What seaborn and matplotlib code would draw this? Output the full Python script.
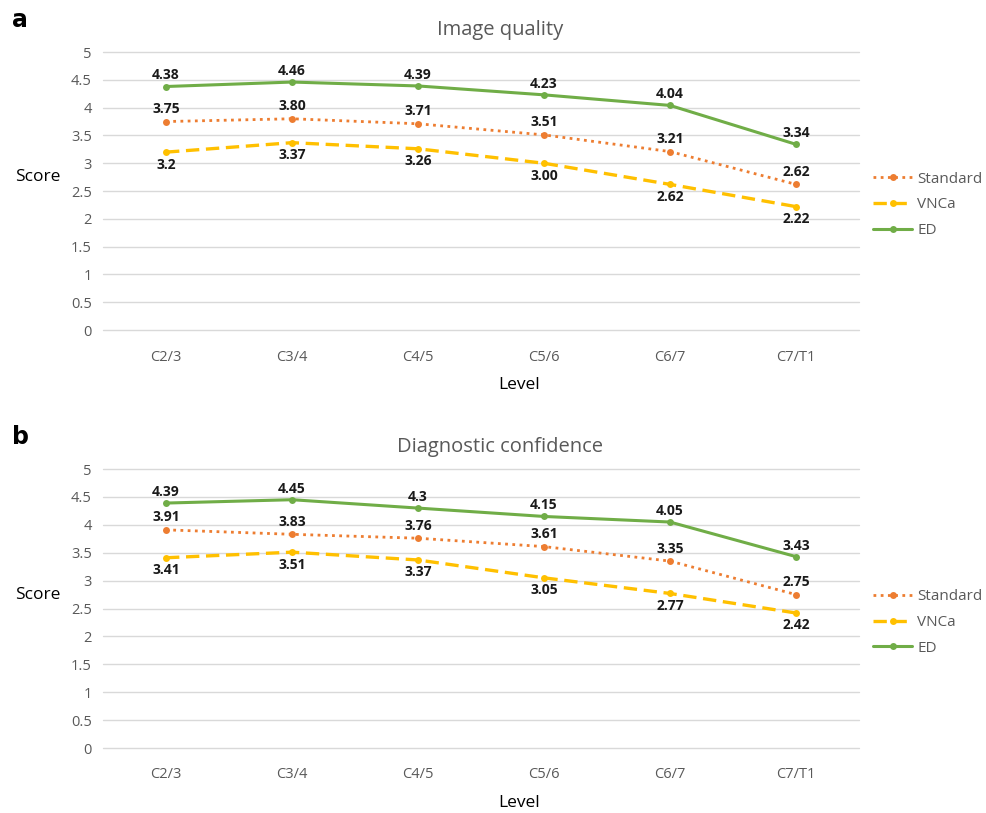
import pandas as pd
import matplotlib.pyplot as plt
import seaborn as sns

levels = ['C2/3', 'C3/4', 'C4/5', 'C5/6', 'C6/7', 'C7/T1']
series = ['Standard', 'VNCa', 'ED']

iq_standard = [3.75, 3.80, 3.71, 3.51, 3.21, 2.62]
iq_vnca = [3.20, 3.37, 3.26, 3.00, 2.62, 2.22]
iq_ed = [4.38, 4.46, 4.39, 4.23, 4.04, 3.34]
iq_labels = {
    'Standard': ['3.75', '3.80', '3.71', '3.51', '3.21', '2.62'],
    'VNCa': ['3.2', '3.37', '3.26', '3.00', '2.62', '2.22'],
    'ED': ['4.38', '4.46', '4.39', '4.23', '4.04', '3.34'],
}

dc_standard = [3.91, 3.83, 3.76, 3.61, 3.35, 2.75]
dc_vnca = [3.41, 3.51, 3.37, 3.05, 2.77, 2.42]
dc_ed = [4.39, 4.45, 4.30, 4.15, 4.05, 3.43]
dc_labels = {
    'Standard': ['3.91', '3.83', '3.76', '3.61', '3.35', '2.75'],
    'VNCa': ['3.41', '3.51', '3.37', '3.05', '2.77', '2.42'],
    'ED': ['4.39', '4.45', '4.3', '4.15', '4.05', '3.43'],
}

COLORS = {'Standard': '#ED7D31', 'VNCa': '#FFC000', 'ED': '#70AD47'}
STYLES = {'Standard': (0, (1, 1.6)), 'VNCa': (0, (4, 2)), 'ED': '-'}
WIDTHS = {'Standard': 2.0, 'VNCa': 2.4, 'ED': 2.2}
OFFSETS = {'Standard': 9, 'VNCa': -9, 'ED': 8}
GRAY = '#595959'

sns.set_style('white')
plt.rcParams['font.family'] = ['Open Sans', 'DejaVu Sans']


def make_df(std, vnc, ed):
    rows = []
    for name, vals in zip(series, [std, vnc, ed]):
        for lev, v in zip(levels, vals):
            rows.append({'Level': lev, 'Score': v, 'Series': name})
    return pd.DataFrame(rows)


panels = [
    ('a', 'Image quality', make_df(iq_standard, iq_vnca, iq_ed), iq_labels,
     [0.1045, 0.594, 0.7667, 0.342]),
    ('b', 'Diagnostic confidence', make_df(dc_standard, dc_vnca, dc_ed), dc_labels,
     [0.1045, 0.0799, 0.7667, 0.3432]),
]

fig = plt.figure(figsize=(9.86, 8.13), dpi=100)

for letter, title, df, labels, rect in panels:
    ax = fig.add_axes(rect)
    for name in series:
        sub = df[df['Series'] == name]
        sns.lineplot(data=sub, x='Level', y='Score', ax=ax, color=COLORS[name],
                     linestyle=STYLES[name], linewidth=WIDTHS[name], marker='o',
                     markersize=5, markeredgewidth=0, sort=False, label=name)
        for i, (v, t) in enumerate(zip(sub['Score'], labels[name])):
            ax.annotate(t, (i, v), xytext=(0, OFFSETS[name]), textcoords='offset points',
                        ha='center', va='center', fontsize=10, fontweight='bold',
                        color='#1a1a1a')
    ax.set_ylim(0, 5)
    ax.set_xlim(-0.5, 5.5)
    ax.set_yticks([0, 0.5, 1, 1.5, 2, 2.5, 3, 3.5, 4, 4.5, 5])
    ax.set_yticklabels(['0', '0.5', '1', '1.5', '2', '2.5', '3', '3.5', '4', '4.5', '5'])
    ax.grid(axis='y', color='#D9D9D9', linewidth=1)
    for gl in ax.get_ygridlines():
        gl.set_clip_on(False)
    ax.set_axisbelow(True)
    for s in ax.spines.values():
        s.set_visible(False)
    ax.tick_params(axis='both', length=0, labelsize=10.5, colors=GRAY, pad=8)
    ax.tick_params(axis='x', pad=14)
    ax.set_xlabel('')
    ax.set_ylabel('')

    ax.legend(loc='center left', bbox_to_anchor=(1.0, 0.45), frameon=False,
              fontsize=11, handlelength=2.6, handletextpad=0.3,
              labelspacing=0.7, labelcolor=GRAY)

    pos = ax.get_position()
    fig.text(500 / 986, pos.y1 + 22 / 813, title, ha='center', va='center',
             fontsize=14.5, color=GRAY)
    fig.text(12 / 986, pos.y1 + 32 / 813, letter, ha='left', va='center',
             fontsize=17, fontweight='bold', color='black', family=['DejaVu Sans'])
    fig.text(38 / 986, pos.y0 + 0.55 * pos.height, 'Score', ha='center', va='center',
             fontsize=12.5, color='black')
    fig.text(519 / 986, pos.y0 - 55 / 813, 'Level', ha='center', va='center',
             fontsize=12.5, color='black')

fig.savefig('out.png', dpi=100)
